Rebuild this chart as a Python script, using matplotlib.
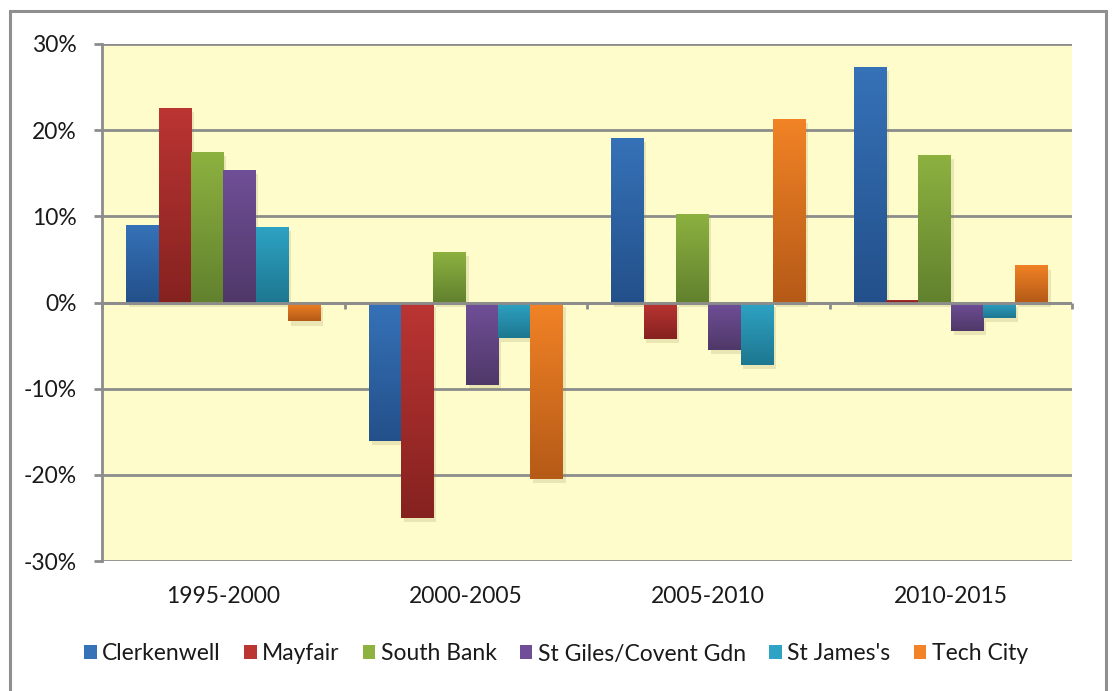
import numpy as np
import matplotlib
matplotlib.use("Agg")
import matplotlib.pyplot as plt
from matplotlib.patches import Rectangle
from matplotlib.colors import LinearSegmentedColormap
import matplotlib.patheffects as pe

periods = ["1995-2000", "2000-2005", "2005-2010", "2010-2015"]
series = ["Clerkenwell", "Mayfair", "South Bank", "St Giles/Covent Gdn", "St James's", "Tech City"]
clerkenwell = [9.0, -16.1, 19.1, 27.3]
mayfair = [22.6, -25.0, -4.2, 0.25]
south_bank = [17.5, 5.9, 10.3, 17.1]
st_giles = [15.4, -9.6, -5.5, -3.25]
st_james = [8.75, -4.1, -7.2, -1.8]
tech_city = [-2.2, -20.5, 21.3, 4.3]
values = [clerkenwell, mayfair, south_bank, st_giles, st_james, tech_city]
yticks = [-30, -20, -10, 0, 10, 20, 30]

top_colors = ["#3672b8", "#bb3533", "#8db240", "#704f98", "#2ea3c4", "#f28326"]
bot_colors = ["#23508a", "#852220", "#62812e", "#4f3868", "#1e7790", "#b55a17"]

plt.rcParams['font.family'] = ['Lato', 'DejaVu Sans']
FS = 16.5
W, H = 1112, 691
fig = plt.figure(figsize=(W / 100, H / 100), dpi=100)
fig.patch.set_facecolor("white")

# outer chart frame
fig.patches.append(Rectangle((10 / W, -0.05), (1106 - 10) / W, (H - 11) / H + 0.05,
                             transform=fig.transFigure, fill=False,
                             edgecolor="#8f8f8f", linewidth=2.2, clip_on=False))

ax = fig.add_axes([102 / W, 130 / H, 970 / W, 517 / H])
ax.set_facecolor("#fefccb")
n = len(series)
width = 0.8 / n
x = np.arange(len(periods))

grad = np.linspace(0, 1, 256).reshape(-1, 1)
for i, (name, vals) in enumerate(zip(series, values)):
    cmap = LinearSegmentedColormap.from_list(name, [bot_colors[i], top_colors[i]])
    bars = ax.bar(x - 0.4 + width * (i + 0.5), vals, width, color=top_colors[i],
                  edgecolor="none", label=name, zorder=2,
                  path_effects=[pe.SimplePatchShadow(offset=(2, -3), shadow_rgbFace="#8a8450", alpha=0.18),
                                pe.Normal()])
    for b in bars:
        x0, y0 = b.get_x(), b.get_y()
        w, h = b.get_width(), b.get_height()
        ylo, yhi = min(y0, y0 + h), max(y0, y0 + h)
        im = ax.imshow(grad, extent=[x0, x0 + w, ylo, yhi], origin="lower",
                       cmap=cmap, aspect="auto", zorder=2.5, interpolation="bilinear")
        im.set_clip_path(b)
ax.set_aspect("auto")
ax.set_xlim(-0.5, len(periods) - 0.5)
ax.set_ylim(-30, 30)

# gridlines
ax.set_yticks(yticks)
ax.set_yticklabels([f"{v}%" for v in yticks])
ax.yaxis.grid(True, color="#8c8c8c", linewidth=2)
ax.set_axisbelow(True)
ax.axhline(0, color="#8c8c8c", linewidth=2, zorder=3)
bounds = np.arange(len(periods) + 1) - 0.5
ax.vlines(bounds, -0.75, 0, color="#8c8c8c", linewidth=2, zorder=3, clip_on=False)

for s in ["top", "right", "bottom"]:
    ax.spines[s].set_visible(False)
ax.spines["left"].set_color("#8c8c8c")
ax.spines["left"].set_linewidth(2)

ax.tick_params(axis="y", length=6, width=2, color="#8c8c8c", labelsize=FS,
               labelcolor="#1a1a1a", pad=12)
ax.set_xticks(x)
ax.set_xticklabels(periods)
ax.tick_params(axis="x", length=0, labelsize=FS, labelcolor="#1a1a1a", pad=18)

handles, labels = ax.get_legend_handles_labels()
leg = fig.legend(handles, labels, loc="center", bbox_to_anchor=(556 / W, 1 - 654 / H),
                 ncol=6, frameon=False, fontsize=FS, handlelength=0.55, handleheight=0.55,
                 handletextpad=0.25, columnspacing=1.0, labelcolor="#1a1a1a")
for hnd in leg.legend_handles:
    hnd.set_path_effects([])

fig.savefig("out.png", dpi=100, facecolor="white")
